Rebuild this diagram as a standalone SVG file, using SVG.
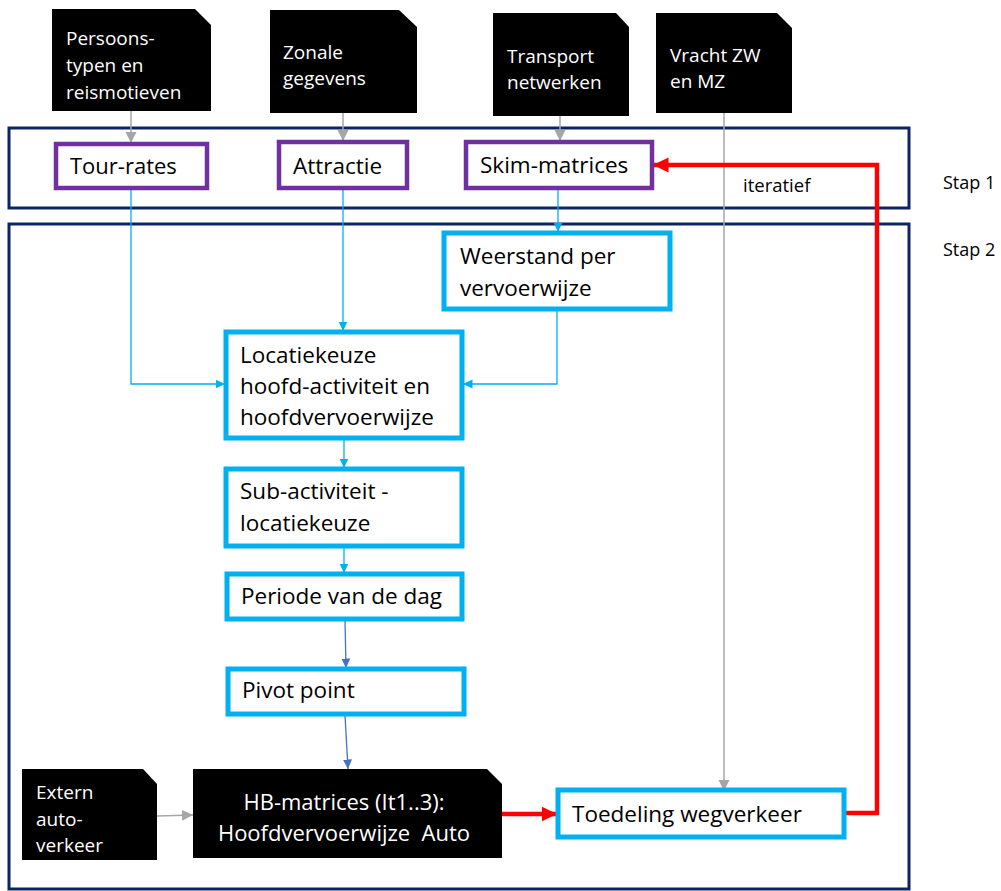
<svg xmlns="http://www.w3.org/2000/svg" width="1001" height="891" viewBox="0 0 1001 891">
<defs>
<style>
.t{font-family:"Open Sans","Noto Sans",sans-serif;fill:#000}
.b{font-size:22.5px}
.w{font-family:"Open Sans","Noto Sans",sans-serif;fill:#fff}
.doc{fill:#000}
.pur{fill:#fff;stroke:#7030A0;stroke-width:4.5}
.blu{fill:#fff;stroke:#00B0F0;stroke-width:5}
.stap{fill:none;stroke:#0C2461;stroke-width:3}
.cg{fill:none;stroke:#A6A6A6;stroke-width:1.5}
.cb{fill:none;stroke:#00B0F0;stroke-width:1.3}
.cd{fill:none;stroke:#4472C4;stroke-width:1.3}
.cr{fill:none;stroke:#FF0000;stroke-width:4.5}
</style>
<marker id="ag" markerUnits="userSpaceOnUse" markerWidth="12" markerHeight="12" viewBox="0 0 12 12" refX="11" refY="6" orient="auto"><path d="M0,0.5 L11,6 L0,11.5 Z" fill="#A6A6A6"/></marker>
<marker id="ab" markerUnits="userSpaceOnUse" markerWidth="10" markerHeight="10" viewBox="0 0 10 10" refX="9.5" refY="5" orient="auto"><path d="M0,0.5 L9.5,5 L0,9.5 Z" fill="#00B0F0"/></marker>
<marker id="ad" markerUnits="userSpaceOnUse" markerWidth="10" markerHeight="10" viewBox="0 0 10 10" refX="9.5" refY="5" orient="auto"><path d="M0,0.5 L9.5,5 L0,9.5 Z" fill="#4472C4"/></marker>
<marker id="ar" markerUnits="userSpaceOnUse" markerWidth="16" markerHeight="16" viewBox="0 0 16 16" refX="15.5" refY="8" orient="auto"><path d="M0,0.5 L15.5,8 L0,15.5 Z" fill="#FF0000"/></marker>
</defs>
<rect width="1001" height="891" fill="#fff"/>

<g id="stap1">
<rect class="stap" x="9" y="128" width="900" height="80"/>
<text class="t" x="943" y="189" font-size="18">Stap 1</text>
</g>
<g id="stap2">
<rect class="stap" x="9" y="224" width="900" height="665"/>
<text class="t" x="943" y="256" font-size="18">Stap 2</text>
</g>

<g id="connectors">
<path class="cg" d="M131,111 V143" marker-end="url(#ag)"/>
<path class="cg" d="M343,113 V141" marker-end="url(#ag)"/>
<path class="cg" d="M560,116 V141" marker-end="url(#ag)"/>
<path class="cg" d="M724,113 V791" stroke-width="1.2" marker-end="url(#ag)"/>
<path class="cg" d="M157,816 L193,815" marker-end="url(#ag)"/>
<path class="cb" d="M131,189 V384 H225" marker-end="url(#ab)"/>
<path class="cb" d="M343,189 V331" marker-end="url(#ab)"/>
<path class="cb" d="M558,189 V232" marker-end="url(#ab)"/>
<path class="cb" d="M557,310 V384 H463" marker-end="url(#ab)"/>
<path class="cb" d="M344,439 V468" marker-end="url(#ab)"/>
<path class="cb" d="M344,547 V573" marker-end="url(#ab)"/>
<path class="cd" d="M345,620 L346,668" marker-end="url(#ad)"/>
<path class="cd" d="M345,715 L348,769" marker-end="url(#ad)"/>
<path class="cr" d="M502,814 H557" marker-end="url(#ar)"/>
<path class="cr" d="M845,813 H877 V165 H653" marker-end="url(#ar)"/>
<text class="t" x="743" y="192" font-size="18.5">iteratief</text>
</g>

<g id="doc-persoons">
<path class="doc" d="M52,9 H195 L211,25 V111 H52 Z"/>
<text class="w" x="66" y="45" font-size="19">Persoons-</text>
<text class="w" x="66" y="72" font-size="19">typen en</text>
<text class="w" x="66" y="99" font-size="19">reismotieven</text>
</g>
<g id="doc-zonale">
<path class="doc" d="M270,10 H399 L417,27 V113 H270 Z"/>
<text class="w" x="283" y="59" font-size="19">Zonale</text>
<text class="w" x="283" y="85" font-size="19">gegevens</text>
</g>
<g id="doc-transport">
<path class="doc" d="M493,13 H616 L629,27 V116 H493 Z"/>
<text class="w" x="507" y="63" font-size="19">Transport</text>
<text class="w" x="507" y="89" font-size="19">netwerken</text>
</g>
<g id="doc-vracht">
<path class="doc" d="M656,13 H777 L792,28 V113 H656 Z"/>
<text class="w" x="670" y="62" font-size="19">Vracht ZW</text>
<text class="w" x="670" y="88" font-size="19">en MZ</text>
</g>

<g id="tour-rates">
<rect class="pur" x="56" y="144" width="151" height="44"/>
<text class="t" x="70" y="174" font-size="22">Tour-rates</text>
</g>
<g id="attractie">
<rect class="pur" x="279" y="142" width="128" height="46"/>
<text class="t b" x="293" y="174">Attractie</text>
</g>
<g id="skim-matrices">
<rect class="pur" x="466" y="142" width="186" height="46"/>
<text class="t b" x="480" y="173">Skim-matrices</text>
</g>

<g id="weerstand">
<rect class="blu" x="444" y="233" width="226" height="76"/>
<text class="t b" x="460" y="264">Weerstand per</text>
<text class="t b" x="460" y="296">vervoerwijze</text>
</g>
<g id="locatiekeuze">
<rect class="blu" x="226" y="332" width="236" height="106"/>
<text class="t b" x="240" y="363">Locatiekeuze</text>
<text class="t b" x="240" y="394">hoofd-activiteit en</text>
<text class="t b" x="240" y="425">hoofdvervoerwijze</text>
</g>
<g id="sub-activiteit">
<rect class="blu" x="226" y="469" width="236" height="77"/>
<text class="t b" x="240" y="499">Sub-activiteit -</text>
<text class="t b" x="240" y="531">locatiekeuze</text>
</g>
<g id="periode">
<rect class="blu" x="227" y="574" width="235" height="45"/>
<text class="t b" x="241" y="604">Periode van de dag</text>
</g>
<g id="pivot">
<rect class="blu" x="228" y="669" width="236" height="45"/>
<text class="t b" x="242" y="698">Pivot point</text>
</g>

<g id="doc-extern">
<path class="doc" d="M22,769 H143 L157,784 V860 H22 Z"/>
<text class="w" x="36" y="799" font-size="19">Extern</text>
<text class="w" x="36" y="826" font-size="19">auto-</text>
<text class="w" x="36" y="852" font-size="19">verkeer</text>
</g>
<g id="hb-matrices">
<path class="doc" d="M193,769 H487 L502,784 V858 H193 Z"/>
<text class="w" x="344" y="810" font-size="22" text-anchor="middle">HB-matrices (It1..3):</text>
<text class="w" x="344" y="841" font-size="22" text-anchor="middle" xml:space="preserve">Hoofdvervoerwijze  Auto</text>
</g>
<g id="toedeling">
<rect class="blu" x="558" y="790" width="286" height="47"/>
<text class="t b" x="572" y="822">Toedeling wegverkeer</text>
</g>
</svg>
